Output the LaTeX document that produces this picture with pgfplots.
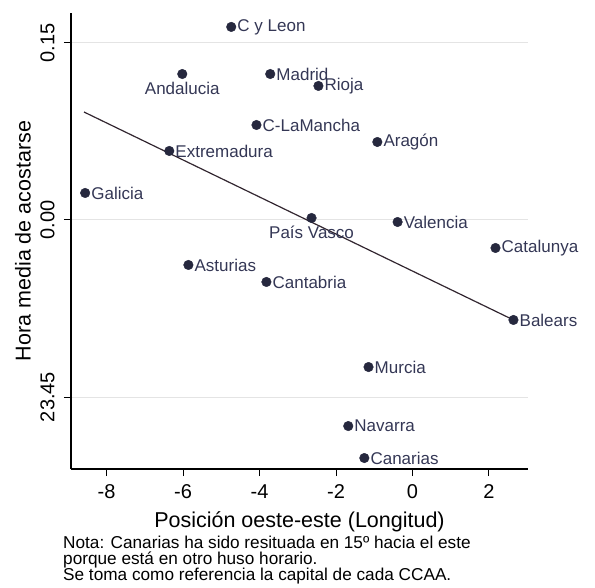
\documentclass[border=0pt]{standalone}
\usepackage{pgfplots}
\pgfplotsset{compat=1.18}
\usepackage{pgfplotstable}
\usepackage{fontspec}
\setmainfont{Liberation Sans}

\definecolor{mk}{RGB}{38,40,62}
\definecolor{lb}{RGB}{52,55,85}
\definecolor{fitc}{RGB}{50,38,48}
\definecolor{gridc}{RGB}{228,228,228}

% Longitude (x) and mean bedtime in minutes relative to 0:00 (y)
\pgfplotstableread{
x      y       name
-4.74  16.36   {C y Leon}
-3.72  12.37   Madrid
-2.46  11.36   Rioja
-4.08   8.05   C-LaMancha
-0.92   6.61   Aragón
-6.36   5.85   Extremadura
-8.56   2.29   Galicia
-0.39  -0.17   Valencia
 2.17  -2.37   Catalunya
-5.86  -3.81   Asturias
-3.82  -5.25   Cantabria
 2.64  -8.47   Balears
-1.15 -12.46   Murcia
-1.68 -17.46   Navarra
-1.26 -20.17   Canarias
}\righttab

\pgfplotstableread{
x      y       name
-6.02  12.37   Andalucia
-2.64   0.17   {País Vasco}
}\belowtab

\begin{document}
\begin{tikzpicture}
\path[use as bounding box] (-71pt,-118pt) rectangle (524pt,469pt);
\begin{axis}[
  scale only axis,
  width=457pt, height=456pt,
  xmin=-8.93, xmax=3.02,
  ymin=-21.10, ymax=17.54,
  axis x line*=bottom, axis y line*=left,
  axis line style={black, line width=1.3pt},
  xtick={-8,-6,-4,-2,0,2},
  xticklabels={-8,-6,-4,-2,0,2},
  ytick={-15,0,15},
  yticklabels={23.45,0.00,0.15},
  tick align=outside,
  major tick length=7pt,
  tick style={black, line width=1pt},
  ymajorgrids,
  grid style={gridc, line width=1pt},
  ticklabel style={font=\fontsize{20}{24}\selectfont},
  xticklabel style={yshift=-5pt},
  yticklabel style={rotate=90, anchor=south},
  yticklabel shift=6pt,
  xlabel={Posición oeste-este (Longitud)},
  ylabel={Hora media de acostarse},
  label style={font=\fontsize{21.5}{25}\selectfont},
  xlabel style={at={(axis description cs:0.5,0)}, anchor=center, yshift=-53pt},
  ylabel style={at={(axis description cs:0,0.5)}, anchor=center, yshift=48pt},
  clip=false,
]
\addplot[only marks, mark=*, mark size=4.8pt, mark options={fill=mk, draw=mk},
  nodes near coords, point meta=explicit symbolic,
  every node near coord/.append style={anchor=west, xshift=5pt, inner sep=1pt,
    text=lb, font=\fontsize{17}{20}\selectfont}]
  table[x=x, y=y, meta=name] {\righttab};
\addplot[only marks, mark=*, mark size=4.8pt, mark options={fill=mk, draw=mk},
  nodes near coords, point meta=explicit symbolic,
  every node near coord/.append style={anchor=north, yshift=-7pt, inner sep=1pt,
    text=lb, font=\fontsize{17}{20}\selectfont}]
  table[x=x, y=y, meta=name] {\belowtab};
% fitted line
\addplot[fitc, line width=1.2pt] coordinates {(-8.59,9.15) (2.64,-8.47)};
\end{axis}
\node[anchor=north west, align=left, inner sep=0pt,
  font=\fontsize{17.2}{16}\selectfont] at (-8pt,-67pt)
  {Nota: Canarias ha sido resituada en 15º hacia el este\\
   porque está en otro huso horario.\\[-1pt]
   Se toma como referencia la capital de cada CCAA.};
\end{tikzpicture}
\end{document}
